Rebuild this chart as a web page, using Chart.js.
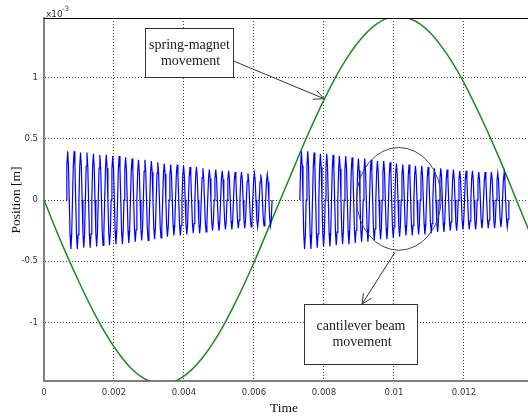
<!DOCTYPE html>
<html>
<head>
<meta charset="utf-8">
<script src="https://cdn.jsdelivr.net/npm/chart.js@4"></script>
<style>
  body { margin: 0; background: #fff; }
  #wrap { width: 528px; height: 416px; }
</style>
</head>
<body>
<div id="wrap"><canvas id="viz"></canvas></div>
<script>
// position values are in units of 1e-3 m (axis shows x10^-3)
var greenTimes = [0, 0.0005, 0.001, 0.0015, 0.002, 0.0025, 0.003, 0.0035, 0.004, 0.0045,
  0.005, 0.0055, 0.006, 0.0065, 0.007, 0.0075, 0.008, 0.0085, 0.009, 0.0095,
  0.01, 0.0105, 0.011, 0.0115, 0.012, 0.0125, 0.013, 0.0135, 0.014];
var greenValues = [0, -0.35, -0.67, -0.96, -1.20, -1.38, -1.48, -1.50, -1.44, -1.30,
  -1.09, -0.82, -0.51, -0.17, 0.17, 0.51, 0.82, 1.09, 1.30, 1.44,
  1.50, 1.48, 1.38, 1.20, 0.96, 0.67, 0.35, 0, -0.35];

// cantilever bursts: start time, cycle length, peak amplitude of each cycle
var burst1Start = 0.00063;
var burst1Period = 0.000184;
var burst1Amp = [0.40, 0.40, 0.39, 0.39, 0.38, 0.37, 0.37, 0.36, 0.36, 0.35,
  0.34, 0.33, 0.33, 0.32, 0.31, 0.30, 0.29, 0.29, 0.28, 0.27,
  0.27, 0.26, 0.25, 0.25, 0.24, 0.24, 0.23, 0.23, 0.22, 0.22, 0.21, 0.21];
var burst2Start = 0.00731;
var burst2Period = 0.000181;
var burst2Amp = [0.40, 0.40, 0.39, 0.38, 0.38, 0.37, 0.36, 0.36, 0.35, 0.34,
  0.34, 0.33, 0.32, 0.32, 0.31, 0.30, 0.29, 0.29, 0.28, 0.28,
  0.27, 0.26, 0.26, 0.25, 0.25, 0.24, 0.24, 0.24, 0.23, 0.23, 0.23, 0.22, 0.22];
// shape of one cycle, sampled at eighths
var cycleShape = [0, 0.71, 1, 0.71, 0, -0.71, -1, -0.71];

var xTicks = [0, 0.002, 0.004, 0.006, 0.008, 0.01, 0.012];
var yTicks = [-1, -0.5, 0, 0.5, 1];

function burstPoints(start, period, amps) {
  var pts = [];
  amps.forEach(function (a, i) {
    var t = start + i * period;
    cycleShape.forEach(function (f, k) {
      pts.push({x: t + k * period / cycleShape.length, y: f * a});
    });
  });
  pts.push({x: start + amps.length * period, y: 0});
  return pts;
}

var bluePoints = burstPoints(burst1Start, burst1Period, burst1Amp)
  .concat([{x: 0.0069, y: null}])
  .concat(burstPoints(burst2Start, burst2Period, burst2Amp));

var greenPoints = greenTimes.map(function (t, i) { return {x: t, y: greenValues[i]}; });

// annotation boxes and arrows, in data units
var notes = {
  box1: {x0: 0.00289, x1: 0.0054, y0: 1.41, y1: 1.01, lines: ['spring-magnet', 'movement']},
  arrow1: {x0: 0.0054, y0: 1.14, x1: 0.0080, y1: 0.83},
  box2: {x0: 0.00743, x1: 0.01066, y0: -0.85, y1: -1.34, lines: ['cantilever beam', 'movement']},
  arrow2: {x0: 0.01003, y0: -0.426, x1: 0.00909, y1: -0.85},
  ring: {x: 0.01014, y: 0.01, rx: 0.00121, ry: 0.42}
};

var serif = '"Liberation Serif", "DejaVu Serif", serif';

var annotate = {
  id: 'annotate',
  afterDatasetsDraw: function (chart) {
    var ctx = chart.ctx;
    var xs = chart.scales.x, ys = chart.scales.y;
    var area = chart.chartArea;
    function px(v) { return xs.getPixelForValue(v); }
    function py(v) { return ys.getPixelForValue(v); }

    ctx.save();
    // top frame line
    ctx.strokeStyle = '#000';
    ctx.lineWidth = 1;
    ctx.beginPath();
    ctx.moveTo(area.left, area.top + 0.5);
    ctx.lineTo(area.right, area.top + 0.5);
    ctx.stroke();

    // ellipse
    var r = notes.ring;
    ctx.strokeStyle = '#444';
    ctx.beginPath();
    ctx.ellipse(px(r.x), py(r.y), px(r.x + r.rx) - px(r.x), py(r.y) - py(r.y + r.ry), 0, 0, Math.PI * 2);
    ctx.stroke();

    function arrow(a) {
      var x0 = px(a.x0), y0 = py(a.y0), x1 = px(a.x1), y1 = py(a.y1);
      var ang = Math.atan2(y1 - y0, x1 - x0);
      ctx.strokeStyle = '#333';
      ctx.beginPath();
      ctx.moveTo(x0, y0);
      ctx.lineTo(x1, y1);
      ctx.moveTo(x1 - 11 * Math.cos(ang - 0.45), y1 - 11 * Math.sin(ang - 0.45));
      ctx.lineTo(x1, y1);
      ctx.lineTo(x1 - 11 * Math.cos(ang + 0.45), y1 - 11 * Math.sin(ang + 0.45));
      ctx.stroke();
    }
    arrow(notes.arrow1);
    arrow(notes.arrow2);

    function box(b) {
      var x0 = Math.round(px(b.x0)) + 0.5, x1 = Math.round(px(b.x1)) + 0.5;
      var y0 = Math.round(py(b.y0)) + 0.5, y1 = Math.round(py(b.y1)) + 0.5;
      ctx.fillStyle = '#fff';
      ctx.fillRect(x0, y0, x1 - x0, y1 - y0);
      ctx.strokeStyle = '#333';
      ctx.strokeRect(x0, y0, x1 - x0, y1 - y0);
      ctx.fillStyle = '#1a1a2a';
      ctx.font = '14px ' + serif;
      ctx.textAlign = 'center';
      ctx.textBaseline = 'middle';
      var cy = (y0 + y1) / 2;
      ctx.fillText(b.lines[0], (x0 + x1) / 2, cy - 8);
      ctx.fillText(b.lines[1], (x0 + x1) / 2 + 1, cy + 8);
    }
    box(notes.box1);
    box(notes.box2);

    // axis titles and exponent
    ctx.fillStyle = '#111';
    ctx.font = '13.5px ' + serif;
    ctx.textAlign = 'center';
    ctx.textBaseline = 'middle';
    ctx.fillText('Time', 284, 408);
    ctx.save();
    ctx.translate(16, 200);
    ctx.rotate(-Math.PI / 2);
    ctx.fillText('Position [m]', 0, 0);
    ctx.restore();

    ctx.fillStyle = '#333';
    ctx.textAlign = 'left';
    ctx.textBaseline = 'alphabetic';
    ctx.font = '9px "DejaVu Sans", sans-serif';
    ctx.fillText('x10', 46, 17);
    ctx.font = '7px "DejaVu Sans", sans-serif';
    ctx.fillText('-3', 62, 11);
    ctx.restore();
  }
};

var tickFont = {family: '"DejaVu Sans", sans-serif', size: 8.5};

var chart = new Chart(document.getElementById('viz').getContext('2d'), {
  type: 'line',
  data: {
    datasets: [
      {
        label: 'cantilever beam',
        data: bluePoints,
        borderColor: '#0000ff',
        borderWidth: 1.2,
        pointRadius: 0,
        spanGaps: false,
      },
      {
        label: 'spring-magnet',
        data: greenPoints,
        borderColor: '#1a8c1a',
        borderWidth: 1.5,
        pointRadius: 0,
        cubicInterpolationMode: 'monotone',
      },
    ],
  },
  options: {
    responsive: true,
    maintainAspectRatio: false,
    animation: false,
    events: [],
    layout: {padding: {top: 18, right: 0, left: 0, bottom: 0}},
    plugins: {legend: {display: false}, tooltip: {enabled: false}},
    scales: {
      x: {
        type: 'linear',
        min: 0,
        max: 0.01383,
        afterFit: function (s) { s.height = 35; },
        afterBuildTicks: function (s) { s.ticks = xTicks.map(function (v) { return {value: v}; }); },
        ticks: {
          padding: 7,
          color: '#333',
          font: tickFont,
          maxRotation: 0,
          callback: function (v) { return String(+v.toFixed(3)); },
        },
        grid: {color: 'rgba(0,0,0,0.75)', drawTicks: false},
        border: {color: '#808080', width: 2, dash: [1, 2]},
      },
      y: {
        min: -1.48,
        max: 1.49,
        afterFit: function (s) { s.width = 44; },
        afterBuildTicks: function (s) { s.ticks = yTicks.map(function (v) { return {value: v}; }); },
        ticks: {
          padding: 6,
          color: '#333',
          font: tickFont,
          callback: function (v) { return String(v); },
        },
        grid: {color: 'rgba(0,0,0,0.75)', drawTicks: false},
        border: {color: '#808080', width: 2, dash: [1, 2]},
      },
    },
  },
  plugins: [annotate],
});
</script>
</body>
</html>
